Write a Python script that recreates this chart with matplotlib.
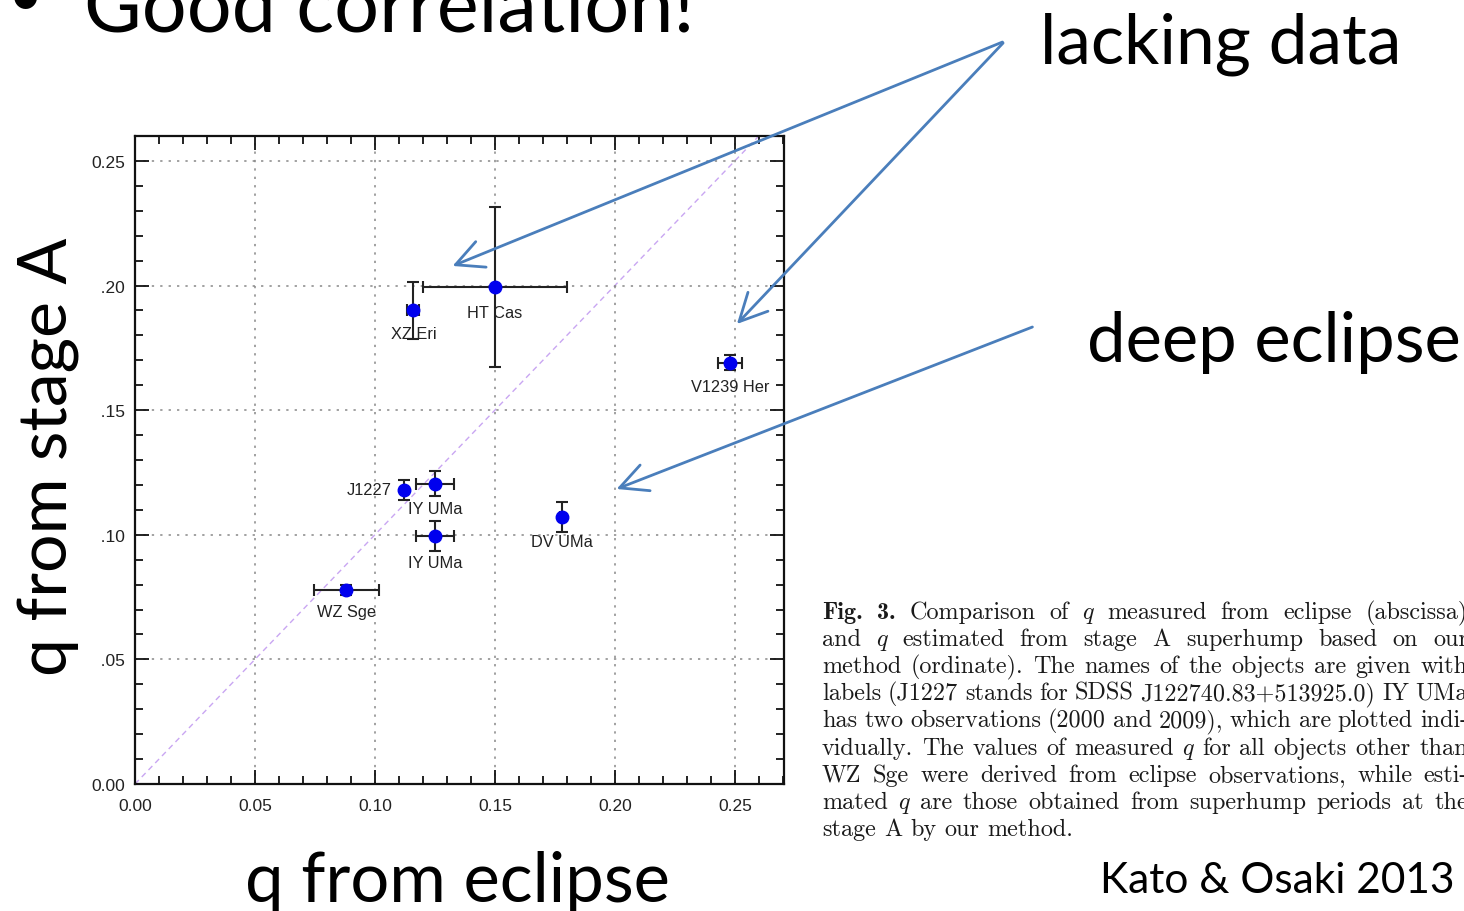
import matplotlib.pyplot as plt
import numpy as np
from matplotlib.patches import FancyArrowPatch, Rectangle
from matplotlib.ticker import MultipleLocator

# mass ratios: eclipse (x) vs stage A superhump (y)
names = ['XZ Eri', 'HT Cas', 'V1239 Her', 'J1227', 'IY UMa', 'IY UMa', 'DV UMa', 'WZ Sge']
q_eclipse = [0.116, 0.150, 0.248, 0.112, 0.125, 0.125, 0.178, 0.088]
q_eclipse_err = [0.0025, 0.030, 0.005, 0.0, 0.008, 0.008, 0.001, 0.0135]
q_stageA = [0.190, 0.1995, 0.169, 0.118, 0.1205, 0.0995, 0.107, 0.078]
q_stageA_err = [0.0115, 0.032, 0.003, 0.004, 0.005, 0.006, 0.006, 0.002]

# label placement (offset in pixels from the point)
label_offsets = [(0, -23), (0, -26), (0, -24), (-12, 0), (0, -25), (0, -26), (0, -24), (0, -22)]
label_align = [('center', 'center'), ('center', 'center'), ('center', 'center'),
               ('right', 'center'), ('center', 'center'), ('center', 'center'),
               ('center', 'center'), ('center', 'center')]

caption = [
    "Fig. 3. Comparison of q measured from eclipse (abscissa)",
    "and q estimated from stage A superhump based on our",
    "method (ordinate). The names of the objects are given with",
    "labels (J1227 stands for SDSS J122740.83+513925.0) IY UMa",
    "has two observations (2000 and 2009), which are plotted indi-",
    "vidually. The values of measured q for all objects other than",
    "WZ Sge were derived from eclipse observations, while esti-",
    "mated q are those obtained from superhump periods at the",
    "stage A by our method.",
]

W, H = 1464, 912
fig = plt.figure(figsize=(W / 100, H / 100), dpi=100)


def px(x, y):
    return (x / W, 1 - y / H)


ax = fig.add_axes([135 / W, 1 - 785 / H, (784 - 135) / W, (785 - 137) / H])
ax.set_xlim(0, 0.2705)
ax.set_ylim(0, 0.26)

diag = np.array([0, 0.26])
ax.plot(diag, diag, ls=(0, (4, 3)), color='#c9a6f2', lw=1.0, zorder=1)

ax.errorbar(q_eclipse, q_stageA, xerr=q_eclipse_err, yerr=q_stageA_err,
            fmt='o', ms=9, mfc='#0000ee', mec='#0000ee', ecolor='#222222',
            elinewidth=1.5, capsize=4.5, capthick=1.5, zorder=3)

for name, xq, yq, off, al in zip(names, q_eclipse, q_stageA, label_offsets, label_align):
    ax.annotate(name, (xq, yq), xytext=off, textcoords='offset pixels',
                ha=al[0], va=al[1], fontsize=11.8, family='Liberation Sans',
                color='#222222', zorder=4)

ax.xaxis.set_major_locator(MultipleLocator(0.05))
ax.xaxis.set_minor_locator(MultipleLocator(0.01))
ax.yaxis.set_major_locator(MultipleLocator(0.05))
ax.yaxis.set_minor_locator(MultipleLocator(0.01))
ax.xaxis.set_major_formatter(plt.FormatStrFormatter('%.2f'))
ax.yaxis.set_major_formatter(plt.FormatStrFormatter('%.2f'))
ax.tick_params(which='both', direction='in', top=True, right=True, width=1.3, color='#111111')
ax.tick_params(which='major', length=10, labelsize=12.5)
ax.tick_params(axis='x', which='major', pad=10)
ax.tick_params(axis='y', which='major', pad=7)
ax.tick_params(which='minor', length=6)
for lab in ax.get_xticklabels() + ax.get_yticklabels():
    lab.set_family('Liberation Sans')
    lab.set_color('#222222')
for sp in ax.spines.values():
    sp.set_linewidth(1.6)
    sp.set_color('#111111')
ax.grid(True, which='major', ls=(0, (1.5, 4)), color='#888888', lw=1.1)

# white area behind the vertical axis title
fig.add_artist(Rectangle(px(0, 690), 102 / W, (690 - 220) / H,
                         transform=fig.transFigure, facecolor='white',
                         edgecolor='none', zorder=2))

slide_font = 'Lato'
fig.text(*px(8, 16), '\u2022', fontsize=44, family=slide_font, va='baseline', zorder=5)
fig.text(*px(84, 32), 'Good correlation!', fontsize=57, family=slide_font, va='baseline', zorder=5)
fig.text(*px(1040, 63), 'lacking data', fontsize=50, family=slide_font, va='baseline', zorder=5)
fig.text(*px(1087, 362), 'deep eclipse', fontsize=49.5, family=slide_font, va='baseline', zorder=5)
fig.text(*px(68, 676), 'q from stage A', fontsize=49, family=slide_font, rotation=90,
         rotation_mode='anchor', ha='left', va='baseline', zorder=5)
fig.text(*px(245, 902), 'q from eclipse', fontsize=49.5, family=slide_font, va='baseline', zorder=5)
fig.text(*px(1100, 893), 'Kato & Osaki 2013', fontsize=30.5, family=slide_font, va='baseline', zorder=5)

# arrows
arrow_color = '#4a7ebb'
for start, end in [((1005, 42), (450, 268)), ((1005, 42), (735, 327)), ((1035, 327), (614, 491))]:
    fig.add_artist(FancyArrowPatch(px(*start), px(*end), transform=fig.transFigure,
                                   arrowstyle='->,head_length=0.9,head_width=0.45',
                                   mutation_scale=22, color=arrow_color, lw=2.0, zorder=6))

# justified caption
cap_size = 17.4
cap_left, cap_right = 822, 1468
line_y = [619, 646, 673, 700, 727, 755, 782, 809, 836]
fig.canvas.draw()
renderer = fig.canvas.get_renderer()
for i, (line, yl) in enumerate(zip(caption, line_y)):
    words = line.split(' ')
    arts = []
    for j, wd in enumerate(words):
        fam = 'cmr10'
        if wd == 'q':
            fam = 'cmmi10'
        elif i == 0 and j < 2:
            fam = 'cmb10'
        t = fig.text(*px(cap_left, yl), wd, fontsize=cap_size, family=fam,
                     va='baseline', color='#1a1a1a', zorder=5)
        arts.append(t)
    widths = [a.get_window_extent(renderer).width for a in arts]
    if i < len(caption) - 1 and len(words) > 1:
        gap = (cap_right - cap_left - sum(widths)) / (len(words) - 1)
    else:
        gap = cap_size * 100 / 72 * 0.33
    xcur = cap_left
    for a, w in zip(arts, widths):
        a.set_position(px(xcur, yl))
        xcur += w + gap

fig.savefig('out.png', dpi=100)
